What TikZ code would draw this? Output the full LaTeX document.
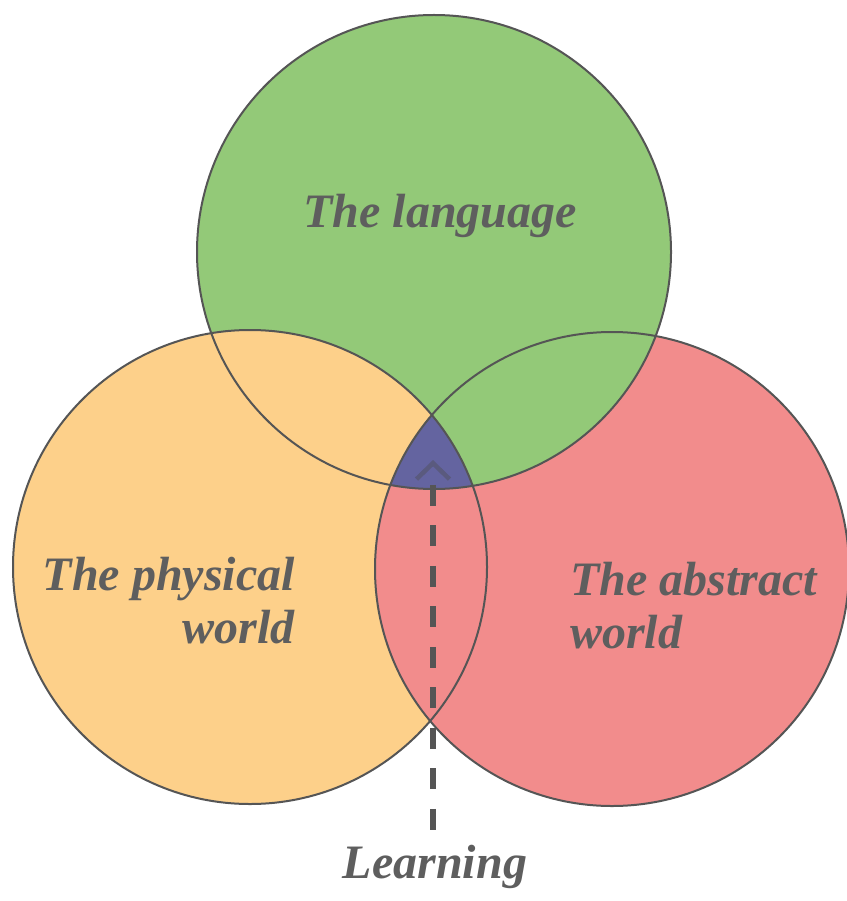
\documentclass[tikz,border=0pt]{standalone}
\usepackage{fontspec}
\setmainfont{Liberation Serif}
\usetikzlibrary{arrows.meta}
\definecolor{cgreen}{HTML}{93C978}
\definecolor{corange}{HTML}{FDD08A}
\definecolor{cred}{HTML}{F28C8C}
\definecolor{cpurple}{HTML}{6464A0}
\definecolor{cline}{HTML}{555555}
\definecolor{ctext}{HTML}{5E5E5E}
\definecolor{ctip}{HTML}{5A5A7E}
\begin{document}
\begin{tikzpicture}[x=1pt,y=-1pt,
  ring/.style={draw=cline, line width=2pt},
  lbl/.style={text=ctext, font=\fontsize{48}{53}\selectfont\bfseries\itshape, inner sep=0pt},
  dashline/.style={draw=cline, line width=6.5pt, dash pattern=on 21pt off 19.5pt, dash phase=21pt}]
\useasboundingbox (0,0) rectangle (846,901);
\coordinate (G) at (434,252);
\coordinate (O) at (250,567);
\coordinate (R) at (612,569);
\def\rad{237pt}
\fill[cgreen] (G) circle (\rad);
\fill[corange] (O) circle (\rad);
\fill[cred] (R) circle (\rad);
\begin{scope}
  \clip (G) circle (\rad);
  \clip (R) circle (\rad);
  \fill[cgreen] (R) circle (\rad);
  \clip (O) circle (\rad);
  \fill[cpurple] (G) circle (\rad);
\end{scope}
\draw[ring] (G) circle (\rad);
\draw[ring] (O) circle (\rad);
\draw[ring] (R) circle (\rad);
\node[lbl, anchor=base] (lang) at (440,228) {The language};
\node[lbl, anchor=north east, align=right] (phys) at (295,557) {The physical\\world};
\node[lbl, anchor=north west, align=left] (abst) at (570,562) {The abstract\\world};
\node[lbl, anchor=base] (learn) at (435,878) {Learning};
\coordinate (bot) at (433,835);
\coordinate (tip) at (433,460);
\draw[dashline, {Straight Barb[length=16pt, width=33pt, line width=4.5pt, color=ctip]}-] (tip) -- (bot);
\end{tikzpicture}
\end{document}
